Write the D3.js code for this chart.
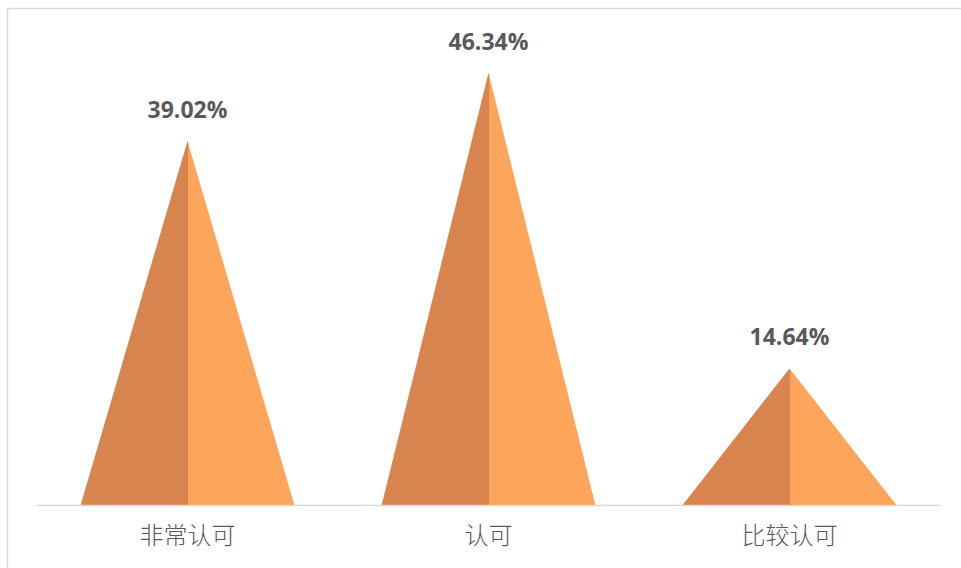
<!DOCTYPE html>
<html><head><meta charset="utf-8">
<script src="https://cdn.jsdelivr.net/npm/d3@7/dist/d3.min.js"></script>
<style>html,body{margin:0;padding:0;background:#fff;overflow:hidden}</style>
</head><body>
<svg id="c" width="961" height="568"></svg>
<script>
const categories = ["非常认可", "认可", "比较认可"];
const values = [39.02, 46.34, 14.64];
const labels = ["39.02%", "46.34%", "14.64%"];

const svg = d3.select("#c");
// outer frame (only top & left visible)
svg.append("rect").attr("x", 7.5).attr("y", 8.5).attr("width", 1000).attr("height", 1000)
  .attr("fill", "none").attr("stroke", "#d9d9d9").attr("stroke-width", 1.5);

const x = d3.scaleBand().domain(categories).range([37, 940]).padding(0);
const y = d3.scaleLinear().domain([0, 39.02]).range([505, 141]);
const widthFrac = 0.71;

const g = svg.append("g");
categories.forEach((c, i) => {
  const cx = x(c) + x.bandwidth() / 2;
  const hw = x.bandwidth() * widthFrac / 2;
  const top = y(values[i]), base = y(0);
  g.append("path").attr("d", `M${cx},${base}L${cx},${top}L${cx + hw},${base}Z`).attr("fill", "#fda55a");
  g.append("path").attr("d", `M${cx - hw},${base}L${cx},${top}L${cx + 0.6},${top + 2}L${cx + 0.6},${base}Z`).attr("fill", "#d8844f");
  g.append("text").attr("x", cx).attr("y", top - 23).attr("text-anchor", "middle")
    .attr("font-family", "'Open Sans', 'Noto Sans', sans-serif").attr("font-weight", "bold")
    .attr("font-size", 23).attr("fill", "#595959").text(labels[i]);
});

svg.append("line").attr("x1", 37).attr("x2", 940).attr("y1", 505.5).attr("y2", 505.5)
  .attr("stroke", "#d9d9d9").attr("stroke-width", 1.5);

const xAxis = d3.axisBottom(x).tickSize(0).tickPadding(22);
const ax = svg.append("g").attr("transform", "translate(0,505)").call(xAxis);
ax.select(".domain").remove();
ax.selectAll("text").attr("font-family", "'Noto Sans CJK SC', sans-serif").attr("font-weight", 300)
  .attr("font-size", 24).attr("fill", "#595959");
</script>
</body></html>
